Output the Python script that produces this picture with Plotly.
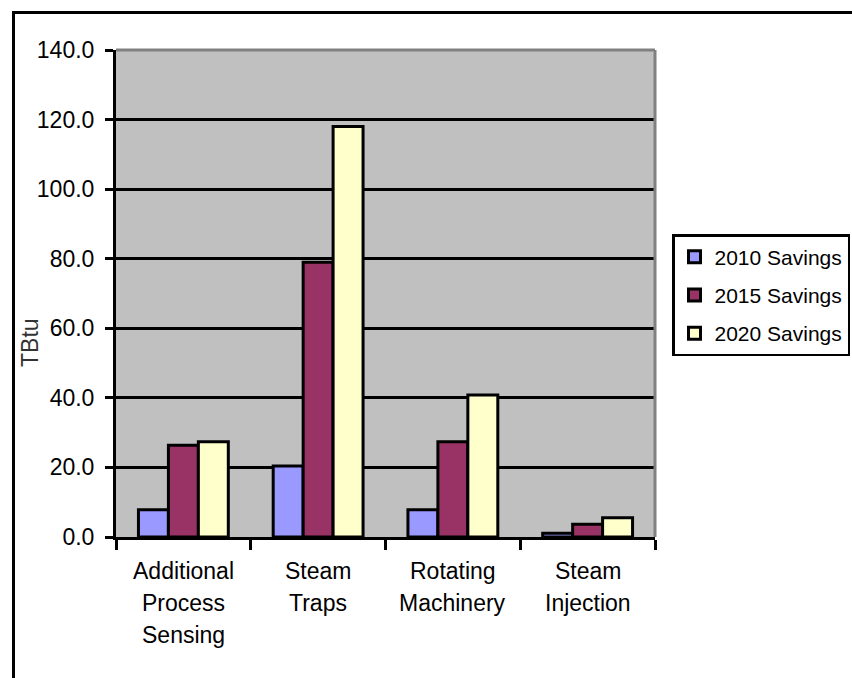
import plotly.graph_objects as go

# Energy savings by technology area (TBtu)
categories = ["Additional Process Sensing", "Steam Traps", "Rotating Machinery", "Steam Injection"]
category_lines = [["Additional", "Process", "Sensing"], ["Steam", "Traps"],
                  ["Rotating", "Machinery"], ["Steam", "Injection"]]
series_names = ["2010 Savings", "2015 Savings", "2020 Savings"]
savings_2010 = [7.8, 20.4, 7.8, 1.1]
savings_2015 = [26.4, 79.0, 27.4, 3.7]
savings_2020 = [27.4, 118.0, 40.8, 5.5]
y_ticks = [0, 20, 40, 60, 80, 100, 120, 140]

colors = ["#9999FF", "#993366", "#FFFFCC"]
FONT = "Liberation Sans, Arial, sans-serif"

fig = go.Figure()
for i, (name, vals) in enumerate(zip(series_names, [savings_2010, savings_2015, savings_2020])):
    fig.add_trace(go.Bar(
        x=categories, y=vals, name=name, legendgroup=name,
        marker=dict(color=colors[i], line=dict(color="black", width=3)),
    ))

# Multi-line category labels under each group
annotations = []
for cat, lines in zip(categories, category_lines):
    for j, line in enumerate(lines):
        annotations.append(dict(
            x=cat, y=0, xref="x", yref="y", text=line, showarrow=False,
            xanchor="center", yanchor="top", yshift=-19 - 32 * j,
            font=dict(family=FONT, size=23, color="black"),
        ))

# Vertical axis title
annotations.append(dict(
    x=-0.16, y=0.40, xref="paper", yref="paper", text="TBtu", showarrow=False,
    xanchor="center", yanchor="middle",
    textangle=-90, font=dict(family=FONT, size=23, color="#333"),
))

# Plot area: 116..655 px horizontally, 50..537 px vertically
L, R, T, B = 116, 655, 50, 537
W, H = 852, 678
pw, ph = R - L, B - T
def px(xp):
    return (xp - L) / pw
def py(yp):
    return (B - yp) / ph

shapes = [
    # Gray top and right edges of the plot area
    dict(type="line", xref="paper", yref="paper", x0=0, x1=1, y0=1, y1=1,
         line=dict(color="#808080", width=3), layer="above"),
    dict(type="line", xref="paper", yref="paper", x0=1, x1=1, y0=0, y1=1,
         line=dict(color="#808080", width=3), layer="above"),
    # Outer chart frame
    dict(type="line", xref="paper", yref="paper", x0=px(13.5), x1=px(13.5), y0=py(700), y1=py(12.5),
         line=dict(color="black", width=3)),
    dict(type="line", xref="paper", yref="paper", x0=px(12), x1=px(870), y0=py(12.5), y1=py(12.5),
         line=dict(color="black", width=3)),
]

fig.update_layout(
    width=W, height=H,
    margin=dict(l=L, r=W - R, t=T, b=H - B, autoexpand=False),
    paper_bgcolor="white", plot_bgcolor="#C0C0C0",
    barmode="group", bargap=0.333, bargroupgap=0,
    font=dict(family=FONT, size=23, color="black"),
    showlegend=True,
    legend=dict(
        x=px(672), y=py(234), xanchor="left", yanchor="top",
        bordercolor="black", borderwidth=2.5, bgcolor="white",
        font=dict(family=FONT, size=21, color="black"),
        traceorder="grouped", tracegroupgap=8,
    ),
    annotations=annotations, shapes=shapes,
)

fig.update_xaxes(
    type="category", showticklabels=False, tickson="boundaries",
    ticks="outside", ticklen=10, tickwidth=3, tickcolor="black",
    showline=True, linecolor="black", linewidth=3, showgrid=False,
)
fig.update_yaxes(
    range=[0, 140], tickvals=y_ticks, tickformat=".1f",
    ticks="outside", ticklen=8, tickwidth=3, tickcolor="black",
    showline=True, linecolor="black", linewidth=3,
    showgrid=True, gridcolor="black", gridwidth=3, zeroline=False,
    ticklabelstandoff=6,
    tickfont=dict(family=FONT, size=23, color="black"),
)

fig.write_html("out.html")
